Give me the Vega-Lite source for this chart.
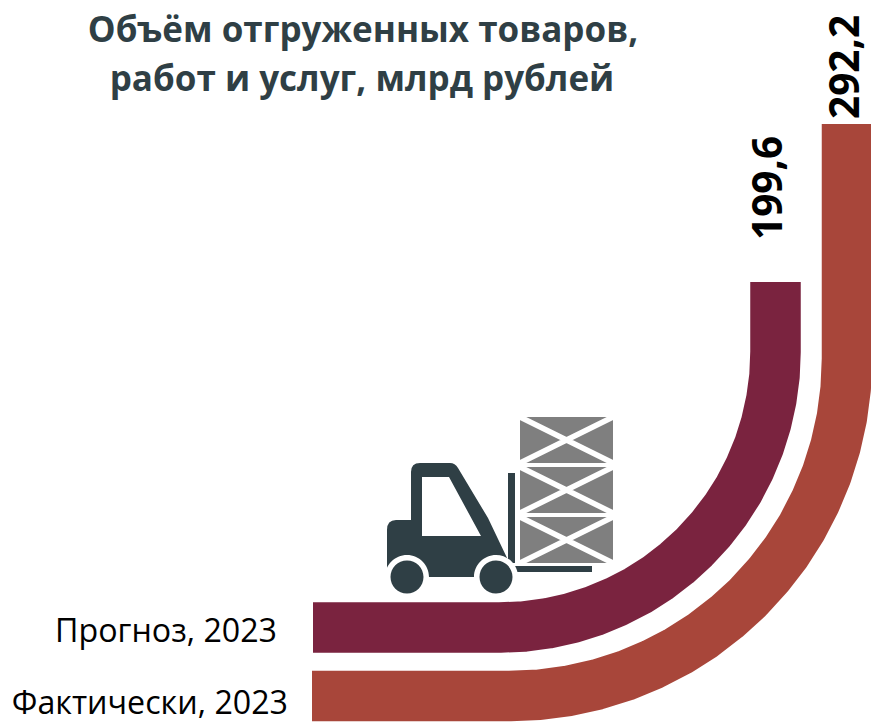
{
"$schema":"https://vega.github.io/schema/vega-lite/v6.json",
"width":871,"height":723,"padding":0,"autosize":{"type":"none"},
"background":"#ffffff",
"config":{"view":{"stroke":null}},
"datasets":{
"bands":[
{"series":"Фактически, 2023","order":0,"x":312,"y":696},{"series":"Фактически, 2023","order":1,"x":510,"y":696},{"series":"Фактически, 2023","order":2,"x":539.4,"y":694.7},{"series":"Фактически, 2023","order":3,"x":568.5,"y":690.9},{"series":"Фактически, 2023","order":4,"x":597.2,"y":684.5},{"series":"Фактически, 2023","order":5,"x":625.3,"y":675.7},{"series":"Фактически, 2023","order":6,"x":652.4,"y":664.4},{"series":"Фактически, 2023","order":7,"x":678.5,"y":650.9},{"series":"Фактически, 2023","order":8,"x":703.3,"y":635.1},{"series":"Фактически, 2023","order":9,"x":726.6,"y":617.1},{"series":"Фактически, 2023","order":10,"x":748.3,"y":597.3},{"series":"Фактически, 2023","order":11,"x":768.1,"y":575.6},{"series":"Фактически, 2023","order":12,"x":786.1,"y":552.3},{"series":"Фактически, 2023","order":13,"x":801.9,"y":527.5},{"series":"Фактически, 2023","order":14,"x":815.4,"y":501.4},{"series":"Фактически, 2023","order":15,"x":826.7,"y":474.3},{"series":"Фактически, 2023","order":16,"x":835.5,"y":446.2},{"series":"Фактически, 2023","order":17,"x":841.9,"y":417.5},{"series":"Фактически, 2023","order":18,"x":845.7,"y":388.4},{"series":"Фактически, 2023","order":19,"x":847,"y":359},{"series":"Фактически, 2023","order":20,"x":847,"y":124},
{"series":"Прогноз, 2023","order":0,"x":313,"y":627.5},{"series":"Прогноз, 2023","order":1,"x":500,"y":627.5},{"series":"Прогноз, 2023","order":2,"x":524,"y":626.5},{"series":"Прогноз, 2023","order":3,"x":547.8,"y":623.3},{"series":"Прогноз, 2023","order":4,"x":571.3,"y":618.1},{"series":"Прогноз, 2023","order":5,"x":594.2,"y":610.9},{"series":"Прогноз, 2023","order":6,"x":616.4,"y":601.7},{"series":"Прогноз, 2023","order":7,"x":637.8,"y":590.6},{"series":"Прогноз, 2023","order":8,"x":658,"y":577.7},{"series":"Прогноз, 2023","order":9,"x":677.1,"y":563},{"series":"Прогноз, 2023","order":10,"x":694.8,"y":546.8},{"series":"Прогноз, 2023","order":11,"x":711,"y":529.1},{"series":"Прогноз, 2023","order":12,"x":725.7,"y":510},{"series":"Прогноз, 2023","order":13,"x":738.6,"y":489.8},{"series":"Прогноз, 2023","order":14,"x":749.7,"y":468.4},{"series":"Прогноз, 2023","order":15,"x":758.9,"y":446.2},{"series":"Прогноз, 2023","order":16,"x":766.1,"y":423.3},{"series":"Прогноз, 2023","order":17,"x":771.3,"y":399.8},{"series":"Прогноз, 2023","order":18,"x":774.5,"y":376},{"series":"Прогноз, 2023","order":19,"x":775.5,"y":352},{"series":"Прогноз, 2023","order":20,"x":775.5,"y":282}
],
"icon":[{"element":"погрузчик","x":500,"y":515}],
"titleLines":[{"text":"Объём отгруженных товаров,","x":363,"y":42},{"text":"работ и услуг, млрд рублей","x":362,"y":91}],
"seriesLabels":[{"text":"Прогноз, 2023","x":277,"y":642},{"text":"Фактически, 2023","x":288,"y":714}],
"valueLabels":[{"text":"199,6","value":199.6,"x":782,"y":240},{"text":"292,2","value":292.2,"x":859,"y":119}]
},
"encoding":{
"x":{"field":"x","type":"quantitative","axis":null,"scale":{"domain":[0,871],"nice":false,"zero":false}},
"y":{"field":"y","type":"quantitative","axis":null,"scale":{"domain":[723,0],"nice":false,"zero":false}}
},
"layer":[
{"data":{"name":"bands"},"mark":{"type":"line","interpolate":"linear","strokeWidth":50.5,"strokeCap":"butt","strokeJoin":"round","clip":false},
"encoding":{"order":{"field":"order","type":"quantitative"},"color":{"field":"series","type":"nominal","legend":null,"scale":{"domain":["Прогноз, 2023","Фактически, 2023"],"range":["#7a233f","#a8463a"]}}}},
{"data":{"name":"icon"},"mark":{"type":"point","size":4,"filled":true,"fill":"#2f3f45","opacity":1,"strokeWidth":0,
"shape":"M-113 15Q-113 5 -104 5L-89 5L-89 -43Q-89 -52 -80 -52L-50 -52Q-45 -52 -42 -47L-12 3L8 45L8 62L-113 62ZM8 -42L15 -42L15 48L8 48ZM15 51L92 51L92 57L15 57Z"}},
{"data":{"name":"icon"},"mark":{"type":"point","size":4,"filled":true,"fill":"#ffffff","opacity":1,"strokeWidth":0,
"shape":"M-78 -38L-51 -38L-19 21L-78 21ZM-115 62A22 22 0 1 0 -71 62A22 22 0 1 0 -115 62ZM-26 62A22 22 0 1 0 18 62A22 22 0 1 0 -26 62Z"}},
{"data":{"name":"icon"},"mark":{"type":"point","size":4,"filled":true,"fill":"#2f3f45","opacity":1,"strokeWidth":0,
"shape":"M-109.5 62A16.5 16.5 0 1 0 -76.5 62A16.5 16.5 0 1 0 -109.5 62ZM-20.5 62A16.5 16.5 0 1 0 12.5 62A16.5 16.5 0 1 0 -20.5 62Z"}},
{"data":{"name":"icon"},"mark":{"type":"point","size":4,"filled":true,"fill":"#7f7f7f","opacity":1,"strokeWidth":0,
"shape":"M20 -98H113V-52H20ZM20 -48H113V-2H20ZM20 2H113V48H20Z"}},
{"data":{"name":"icon"},"mark":{"type":"point","size":4,"filled":false,"stroke":"#ffffff","opacity":1,"strokeWidth":5.5,
"shape":"M20 -98L113 -52M113 -98L20 -52M20 -48L113 -2M113 -48L20 -2M20 2L113 48M113 2L20 48"}},
{"data":{"name":"titleLines"},"mark":{"type":"text","font":"Open Sans","fontWeight":"bold","fontSize":35,"fill":"#2f3f45","align":"center","baseline":"alphabetic"},"encoding":{"text":{"field":"text"}}},
{"data":{"name":"seriesLabels"},"mark":{"type":"text","font":"Open Sans","fontSize":32.2,"fill":"#000000","align":"right","baseline":"alphabetic"},"encoding":{"text":{"field":"text"}}},
{"data":{"name":"valueLabels"},"mark":{"type":"text","font":"Open Sans","fontWeight":"bold","fontSize":40.5,"fill":"#000000","align":"left","baseline":"alphabetic","angle":270},"encoding":{"text":{"field":"text"}}}
]
}
